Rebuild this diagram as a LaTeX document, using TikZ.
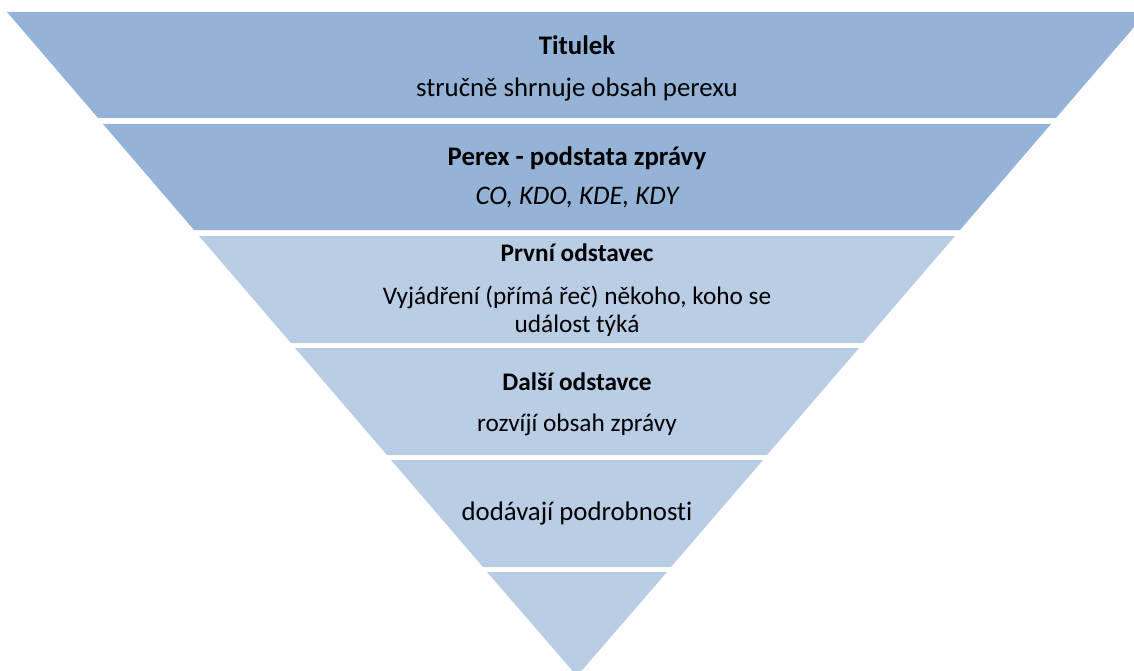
\documentclass[tikz,border=0pt]{standalone}
\usepackage{fontspec}
\setmainfont{Carlito}[Ligatures=NoCommon]
\usetikzlibrary{positioning}
\definecolor{bandtop}{HTML}{95B3D7}
\definecolor{bandlow}{HTML}{B9CDE5}

\begin{document}
\begin{tikzpicture}[x=1pt,y=-1pt,
    darkband/.style={fill=bandtop,draw=none},
    lightband/.style={fill=bandlow,draw=none},
    txt/.style={font=\fontsize{26.8}{28.5}\selectfont,inner sep=0pt,align=center},
    headtxt/.style={txt,font=\fontsize{26.8}{28.5}\selectfont\bfseries},
    smalltxt/.style={txt,font=\fontsize{25.3}{28}\selectfont},
    smallhead/.style={txt,font=\fontsize{25.3}{28}\selectfont\bfseries}]
        \useasboundingbox (0,0) rectangle (1134,671);
        \clip (0,0) rectangle (1134,671);
        % pasy trojuhelniku
        \draw[darkband] (7,12) -- (1147,12) -- (1056,118) -- (98,118) -- cycle;
        \draw[darkband] (103,124) -- (1051,124) -- (960,230) -- (194,230) -- cycle;
        \draw[lightband] (199,236) -- (955,236) -- (863,343) -- (291,343) -- cycle;
        \draw[lightband] (295,348) -- (859,348) -- (767,455) -- (387,455) -- cycle;
        \draw[lightband] (391,460) -- (763,460) -- (671,567) -- (483,567) -- cycle;
        \draw[lightband] (487,572) -- (667,572) -- (577,676) -- cycle;
        % texty
        \node[headtxt] (titulek) at (577,45) {Titulek};
        \node[txt] (shrnuti) at (577,89) {stručně shrnuje obsah perexu};
        \node[headtxt] (perex) at (577,158) {Perex - podstata zprávy};
        \node[txt,font=\fontsize{26.8}{28.5}\selectfont\itshape] (otazky) at (577,198) {CO, KDO, KDE, KDY};
        \node[smallhead] (prvni) at (577,253) {První odstavec};
        \node[smalltxt] (vyjadreni) at (577,311) {Vyjádření (přímá řeč) někoho, koho se\\událost týká};
        \node[smallhead] (dalsi) at (577,382) {Další odstavce};
        \node[smalltxt] (rozviji) at (577,425) {rozvíjí obsah zprávy};
        \node[txt] (podrobnosti) at (577,513) {dodávají podrobnosti};
    \end{tikzpicture}
\end{document}
